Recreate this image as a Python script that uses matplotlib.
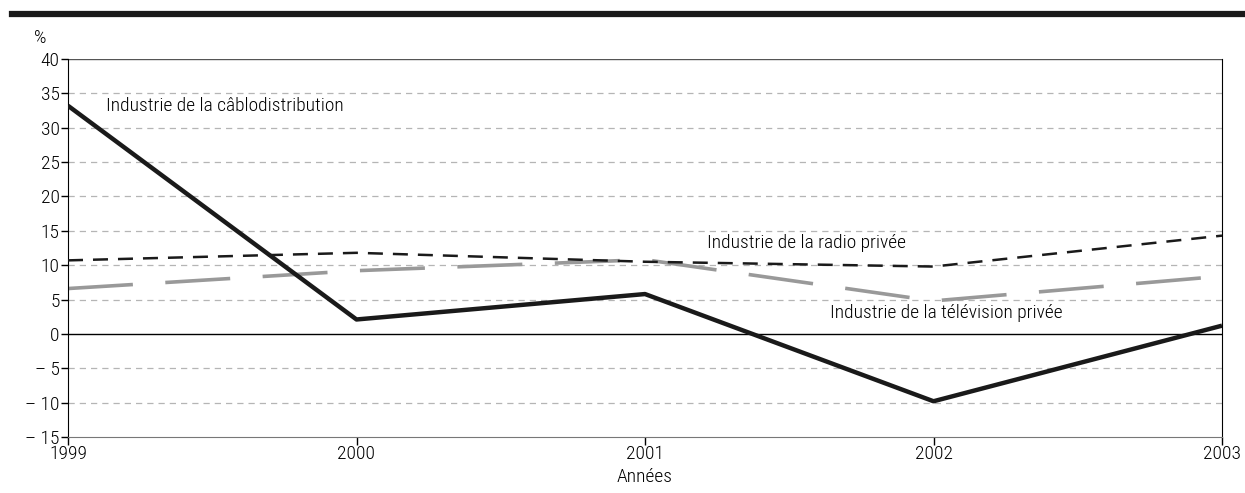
import matplotlib
matplotlib.use("Agg")
import matplotlib.pyplot as plt
from matplotlib.lines import Line2D
from matplotlib import font_manager as fm

# police étroite si disponible (le graphique d'origine utilise une police condensée)
_fam = "Roboto"
_stretch = "normal"
for _f in fm.fontManager.ttflist:
    if _f.name in ("Liberation Sans Narrow", "Roboto Condensed", "Open Sans Condensed"):
        _fam = _f.name
        break
else:
    for _f in fm.fontManager.ttflist:
        if _f.name == "DejaVu Sans" and _f.stretch == "condensed" and _f.weight in (400, "normal"):
            _fam = "DejaVu Sans"
            _stretch = "condensed"
            break
plt.rcParams["font.family"] = [_fam, "DejaVu Sans"]
plt.rcParams["font.stretch"] = _stretch
plt.rcParams["font.weight"] = "light"
plt.rcParams["axes.labelweight"] = "light"

years = [1999, 2000, 2001, 2002, 2003]
cable = [33.2, 2.1, 5.8, -9.8, 1.2]
radio = [10.7, 11.8, 10.5, 9.8, 14.3]
tele = [6.6, 9.2, 10.8, 4.8, 8.4]
yticks = [40, 35, 30, 25, 20, 15, 10, 5, 0, -5, -10, -15]
ytick_labels = ["40", "35", "30", "25", "20", "15", "10", "5", "0", "\u2013 5", "\u2013 10", "\u2013 15"]

fig = plt.figure(figsize=(12.45, 4.93), dpi=100)
ax = fig.add_axes([68 / 1245, 1 - 437 / 493, (1222 - 68) / 1245, (437 - 59) / 493])

for y in yticks:
    if y in (40, -15, 0):
        continue
    ax.axhline(y, color="#b5b5b5", lw=0.9, ls=(0, (5, 4)), zorder=1)
ax.axhline(0, color="black", lw=1.0, zorder=1)
ax.axhline(40, color="#555555", lw=1.0, zorder=1)

ax.plot(years, tele, color="#999999", lw=2.6, ls=(0, (18, 9)), zorder=2)
ax.plot(years, radio, color="#1a1a1a", lw=1.8, ls=(0, (6, 4)), zorder=3)
ax.plot(years, cable, color="#1a1a1a", lw=3.2, zorder=4, solid_capstyle="butt")

fs = 12.5 if _stretch == "normal" and _fam == "Roboto" else 14
ax.set_xlim(1999, 2003)
ax.set_ylim(-15, 40)
ax.set_xticks(years)
ax.set_xticklabels([str(y) for y in years])
ax.set_yticks(yticks)
ax.set_yticklabels(ytick_labels)
ax.tick_params(axis="both", direction="out", length=5, width=1, labelsize=fs, pad=1)
ax.tick_params(axis="x", length=6, pad=0)
ax.spines["top"].set_visible(False)
ax.spines["bottom"].set_color("#777777")
ax.spines["left"].set_color("black")
ax.spines["right"].set_color("black")

ax.set_xlabel("Années", fontsize=fs, labelpad=3, fontweight="light")
fig.text(40 / 1245, 1 - 38 / 493, "%", fontsize=fs, ha="center", va="center")

ax.text(1999.13, 33.2, "Industrie de la câblodistribution", fontsize=fs, va="center")
ax.text(2001.215, 13.3, "Industrie de la radio privée", fontsize=fs, va="center")
ax.text(2001.64, 3.1, "Industrie de la télévision privée", fontsize=fs, va="center")

fig.add_artist(Line2D([12 / 1245, 1.0], [1 - 14 / 493, 1 - 14 / 493], color="#1a1a1a", lw=4.5))

fig.savefig("out.png", dpi=100)
